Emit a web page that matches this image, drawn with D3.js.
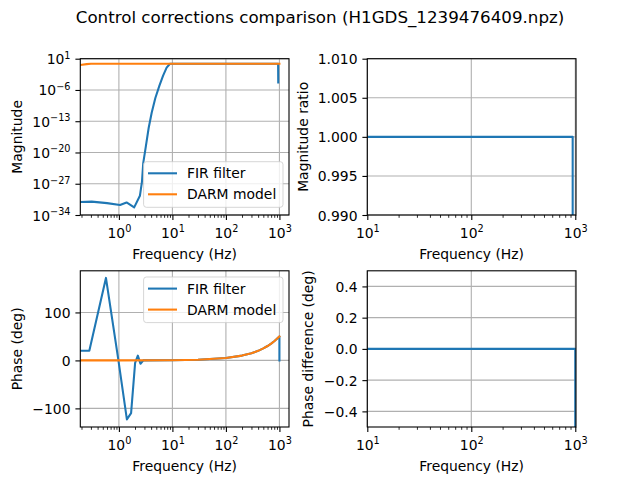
<!DOCTYPE html>
<meta charset="utf-8">
<head>
<title>Control corrections comparison</title>
<style>
body { margin: 0; background: #fff; }
svg { font-family: "DejaVu Sans", sans-serif; }
.axis text { font-size: 13.9px; font-family: "DejaVu Sans", sans-serif; fill: #000; }
.axis line { stroke: #000; }
.label { font-size: 13.9px; fill: #000; }
</style>
</head>
<body>
<script src="https://d3js.org/d3.v7.min.js"></script>
<script>

var title = "Control corrections comparison (H1GDS_1239476409.npz)";
var seriesNames = ["FIR filter", "DARM model"];
var blue = "#1f77b4", orange = "#ff7f0e";

// top left: magnitude
var firMagFreq = [0.19, 0.31, 0.6, 1.05, 1.39, 1.93, 2.47, 2.7, 2.85, 3.2, 3.6, 4.1, 4.8, 5.7, 6.7, 7.8, 9.0, 20, 100, 500, 945, 950];
var firMag = [8.3e-32, 1e-31, 4.5e-32, 1.8e-32, 6.3e-32, 5e-33, 2e-30, 3e-27, 4e-23, 3e-19, 3e-15, 8e-12, 1.6e-8, 8e-6, 1.6e-3, 0.1, 0.74, 0.74, 0.74, 0.74, 0.74, 4.6e-5];
var darmMagFreq = [0.19, 0.25, 0.3, 1, 10, 100, 1000];
var darmMag = [0.4, 0.6, 0.74, 0.74, 0.74, 0.74, 0.74];

// bottom left: phase (deg)
var firPhaseFreq = [0.19, 0.28, 0.573, 0.98, 1.41, 1.69, 2.01, 2.26, 2.53, 2.87, 10, 30, 100, 200, 300, 400, 500, 600, 700, 800, 900, 1000, 1000];
var firPhase = [20, 20, 172, 0, -123, -110, -5, 10, -7, 0.1, 0.5, 1.5, 5, 10, 15, 20, 25, 30, 35, 40, 45, 50, 0];
var darmPhaseFreq = [0.19, 1, 10, 30, 100, 200, 300, 400, 500, 600, 700, 800, 900, 1000];
var darmPhase = [0.01, 0.05, 0.5, 1.5, 5, 10, 15, 20, 25, 30, 35, 40, 45, 50];

// right column: ratio and difference
var ratioFreq = [10, 100, 944, 944];
var magRatio = [1.0, 1.0, 1.0, 6e-5];
var diffFreq = [10, 100, 1000, 1000];
var phaseDiff = [0, 0, 0, -50];

// tick values
var wideFreqTicks = [1, 10, 100, 1000];
var narrowFreqTicks = [10, 100, 1000];
var magTicks = [1e-34, 1e-27, 1e-20, 1e-13, 1e-6, 1e1];
var phaseTicks = [-100, 0, 100];
var ratioTicks = [0.990, 0.995, 1.000, 1.005, 1.010];
var diffTicks = [-0.4, -0.2, 0.0, 0.2, 0.4];

var svg = d3.select("body").append("svg")
    .attr("width", 640)
    .attr("height", 480);

svg.append("text")
    .attr("x", 320)
    .attr("y", 23)
    .attr("text-anchor", "middle")
    .style("font-size", "16.7px")
    .text(title);

function minorTicks(domain) {
  var out = [];
  var lo = Math.floor(Math.log10(domain[0])), hi = Math.ceil(Math.log10(domain[1]));
  for (var e = lo; e <= hi; e++) {
    for (var k = 2; k < 10; k++) {
      var v = k * Math.pow(10, e);
      if (v >= domain[0] && v <= domain[1]) out.push(v);
    }
  }
  return out;
}

function expText(d) {
  return String(Math.round(Math.log10(d))).replace("-", "\u2212");
}

function supLabels(sel) {
  sel.each(function(d) {
    var t = d3.select(this).text("");
    t.append("tspan").text("10");
    t.append("tspan").attr("dy", -5.7).style("font-size", "9.7px").text(expText(d));
  });
}

function panel(o) {
  var g = svg.append("g")
      .attr("transform", "translate(" + o.left + "," + o.top + ")");

  var x = d3.scaleLog().domain(o.xDomain).range([0, o.w]);
  var y = (o.yLog ? d3.scaleLog() : d3.scaleLinear()).domain(o.yDomain).range([o.h, 0]);

  g.append("clipPath").attr("id", "clip" + o.name)
    .append("rect").attr("width", o.w).attr("height", o.h);

  // grid
  g.append("g").selectAll("line").data(o.xTicks).enter().append("line")
      .attr("x1", function(d) { return x(d); })
      .attr("x2", function(d) { return x(d); })
      .attr("y1", 0).attr("y2", o.h)
      .attr("stroke", "#b0b0b0").attr("stroke-width", 1.1);
  g.append("g").selectAll("line").data(o.yTicks).enter().append("line")
      .attr("y1", function(d) { return y(d); })
      .attr("y2", function(d) { return y(d); })
      .attr("x1", 0).attr("x2", o.w)
      .attr("stroke", "#b0b0b0").attr("stroke-width", 1.1);

  var line = d3.line()
      .x(function(d) { return x(d[0]); })
      .y(function(d) { return y(d[1]); });

  o.series.forEach(function(s) {
    g.append("path")
        .datum(d3.zip(s.x, s.y))
        .attr("clip-path", "url(#clip" + o.name + ")")
        .attr("d", line)
        .attr("fill", "none")
        .attr("stroke", s.color)
        .attr("stroke-width", 2.08)
        .attr("stroke-linejoin", "round")
        .attr("stroke-linecap", "square");
  });

  g.append("rect")
      .attr("width", o.w).attr("height", o.h)
      .attr("fill", "none").attr("stroke", "#000").attr("stroke-width", 1.1);

  // x axis, minor then major
  g.append("g").attr("class", "axis")
      .attr("transform", "translate(0," + o.h + ")")
      .call(d3.axisBottom(x).tickValues(minorTicks(o.xDomain)).tickSize(2.8).tickSizeOuter(0).tickFormat(""))
      .call(function(a) { a.select(".domain").remove(); a.selectAll("line").attr("stroke-width", 0.83); });

  g.append("g").attr("class", "axis")
      .attr("transform", "translate(0," + o.h + ")")
      .call(d3.axisBottom(x).tickValues(o.xTicks).tickSize(4.9).tickSizeOuter(0))
      .call(function(a) {
        a.select(".domain").remove();
        a.selectAll("line").attr("stroke-width", 1.1);
        a.selectAll("text").attr("y", 23).attr("dy", null).call(supLabels);
      });

  var ya = g.append("g").attr("class", "axis")
      .call(d3.axisLeft(y).tickValues(o.yTicks).tickSize(4.9).tickPadding(4.9).tickSizeOuter(0));
  ya.select(".domain").remove();
  ya.selectAll("line").attr("stroke-width", 1.1);
  if (o.yLog) {
    ya.selectAll("text").attr("dy", null).attr("y", 5).call(supLabels);
  } else {
    ya.selectAll("text").attr("dy", "0.36em").text(o.yFormat);
  }

  g.append("text").attr("class", "label")
      .attr("x", o.w / 2).attr("y", o.h + 44.4)
      .attr("text-anchor", "middle")
      .text("Frequency (Hz)");

  g.append("text").attr("class", "label")
      .attr("transform", "translate(" + o.yLabelX + "," + (o.h / 2) + ") rotate(-90)")
      .attr("text-anchor", "middle")
      .text(o.yLabel);

  if (o.legend) {
    var lw = 139.4, lh = 45.6;
    var lx = o.w - 6 - lw;
    var ly = o.legend === "lower" ? o.h - 7.7 - lh : 6.2;
    var lg = g.append("g").attr("transform", "translate(" + lx + "," + ly + ")");
    lg.append("rect")
        .attr("width", lw).attr("height", lh).attr("rx", 2.8)
        .attr("fill", "#fff").attr("fill-opacity", 0.8)
        .attr("stroke", "#cccccc").attr("stroke-opacity", 0.8).attr("stroke-width", 1);
    o.series.forEach(function(s, i) {
      var cy = 11.6 + i * 21;
      lg.append("line")
          .attr("x1", 4.4).attr("x2", 33.4).attr("y1", cy).attr("y2", cy)
          .attr("stroke", s.color).attr("stroke-width", 2.08);
      lg.append("text").attr("class", "label")
          .attr("x", 43.4).attr("y", cy + 5)
          .text(seriesNames[i]);
    });
  }
}

panel({
  name: "tl", left: 80.3, top: 58.7, w: 208.7, h: 156.3,
  xDomain: [0.19, 1510], yDomain: [1e-34, 10], yLog: true,
  xTicks: wideFreqTicks, yTicks: magTicks,
  yLabel: "Magnitude", yLabelX: -58,
  legend: "lower",
  series: [
    { x: firMagFreq, y: firMag, color: blue },
    { x: darmMagFreq, y: darmMag, color: orange }
  ]
});

panel({
  name: "tr", left: 367.3, top: 58.7, w: 208.7, h: 156.3,
  xDomain: [10, 1016], yDomain: [0.99, 1.01],
  xTicks: narrowFreqTicks, yTicks: ratioTicks,
  yFormat: d3.format(".3f"),
  yLabel: "Magnitude ratio", yLabelX: -59,
  series: [ { x: ratioFreq, y: magRatio, color: blue } ]
});

panel({
  name: "bl", left: 80.3, top: 270.8, w: 208.7, h: 156.2,
  xDomain: [0.19, 1510], yDomain: [-138.8, 186.8],
  xTicks: wideFreqTicks, yTicks: phaseTicks,
  yFormat: d3.format("d"),
  yLabel: "Phase (deg)", yLabelX: -58,
  legend: "upper",
  series: [
    { x: firPhaseFreq, y: firPhase, color: blue },
    { x: darmPhaseFreq, y: darmPhase, color: orange }
  ]
});

panel({
  name: "br", left: 367.3, top: 270.8, w: 208.7, h: 156.2,
  xDomain: [10, 1016], yDomain: [-0.5, 0.5],
  xTicks: narrowFreqTicks, yTicks: diffTicks,
  yFormat: d3.format(".1f"),
  yLabel: "Phase difference (deg)", yLabelX: -54,
  series: [ { x: diffFreq, y: phaseDiff, color: blue } ]
});

</script>
</body>
